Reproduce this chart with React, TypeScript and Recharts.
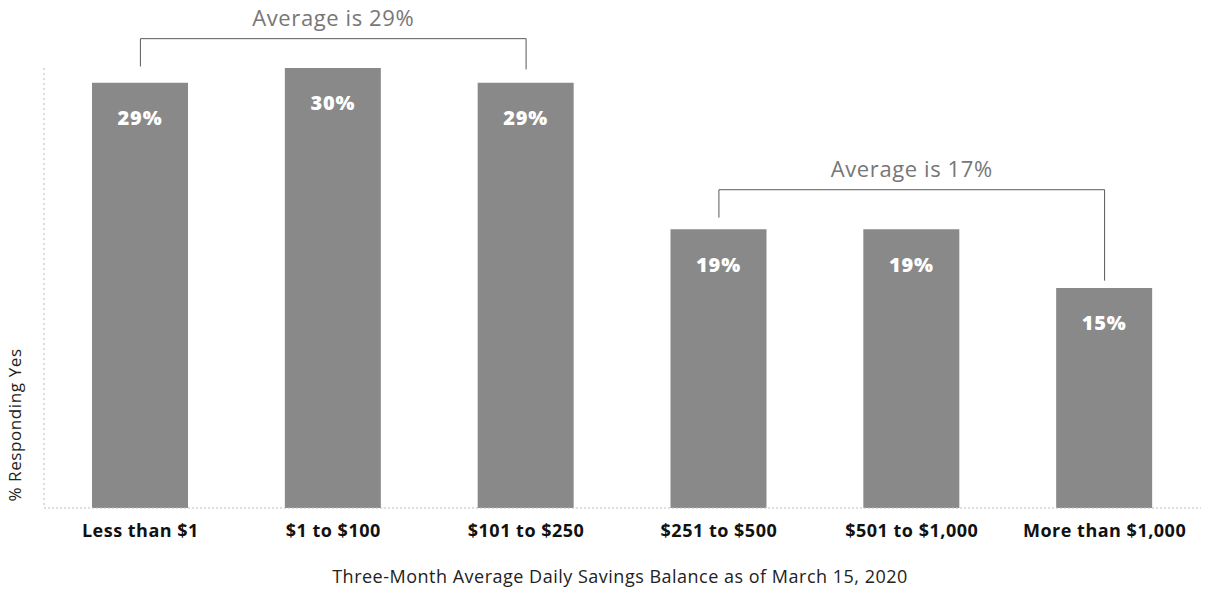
import { Bar, BarChart, LabelList, ReferenceLine, XAxis, YAxis } from "recharts";

const categories = [
  "Less than $1",
  "$1 to $100",
  "$101 to $250",
  "$251 to $500",
  "$501 to $1,000",
  "More than $1,000",
];
const responding = [29, 30, 29, 19, 19, 15];

const groupLow = { from: "Less than $1", to: "$101 to $250", label: "Average is 29%" };
const groupHigh = { from: "$251 to $500", to: "More than $1,000", label: "Average is 17%" };

const data = categories.map((c, i) => ({ balance: c, yes: responding[i] }));

const FONT = "'Open Sans', 'Noto Sans', sans-serif";
const BRACKET = "#5a5a5a";

function YLabel() {
  return (
    <text
      x={21}
      y={425}
      transform="rotate(-90, 21, 425)"
      textAnchor="middle"
      fontSize={17}
      letterSpacing={0.6}
      fill="#222"
      fontFamily={FONT}
    >
      % Responding Yes
    </text>
  );
}

function XLabel() {
  return (
    <text
      x={620}
      y={583}
      textAnchor="middle"
      fontSize={18}
      letterSpacing={0.5}
      fill="#222"
      fontFamily={FONT}
    >
      Three-Month Average Daily Savings Balance as of March 15, 2020
    </text>
  );
}

const bracketLabel = (value: string) => ({
  value,
  position: "top" as const,
  offset: 13,
  fill: "#777",
  fontSize: 22,
  fontFamily: FONT,
  letterSpacing: 0.6,
});

export default function App() {
  return (
    <div style={{ position: "absolute", left: 0, top: 0, background: "#fff" }}>
      <BarChart
        width={1225}
        height={591}
        data={data}
        margin={{ top: 68, right: 24, bottom: 0, left: 0 }}
        barSize={96}
      >
        <XAxis
          dataKey="balance"
          height={83}
          axisLine={{ stroke: "#bbb", strokeDasharray: "2 2" }}
          tickLine={false}
          tickMargin={10}
          tick={{ fontSize: 18, fontWeight: 700, fill: "#111", fontFamily: FONT, letterSpacing: 0.5 }}
          interval={0}
          label={<XLabel />}
        />
        <YAxis
          domain={[0, 30]}
          width={44}
          tick={false}
          tickLine={false}
          axisLine={{ stroke: "#bbb", strokeDasharray: "2 3" }}
          label={<YLabel />}
        />
        <Bar dataKey="yes" fill="#898989" isAnimationActive={false}>
          <LabelList
            dataKey="yes"
            position="insideTop"
            offset={28}
            formatter={(v: any) => `${v}%`}
            style={{ fill: "#fff", fontSize: 20, fontWeight: 800, fontFamily: FONT, letterSpacing: 0.8 }}
          />
        </Bar>

        <ReferenceLine
          segment={[{ x: groupLow.from, y: 32 }, { x: groupLow.to, y: 32 }]}
          stroke={BRACKET}
          ifOverflow="visible"
          label={bracketLabel(groupLow.label)}
        />
        <ReferenceLine
          segment={[{ x: groupLow.from, y: 32 }, { x: groupLow.from, y: 30.1 }]}
          stroke={BRACKET}
          ifOverflow="visible"
        />
        <ReferenceLine
          segment={[{ x: groupLow.to, y: 32 }, { x: groupLow.to, y: 29.9 }]}
          stroke={BRACKET}
          ifOverflow="visible"
        />

        <ReferenceLine
          segment={[{ x: groupHigh.from, y: 21.7 }, { x: groupHigh.to, y: 21.7 }]}
          stroke={BRACKET}
          ifOverflow="visible"
          label={bracketLabel(groupHigh.label)}
        />
        <ReferenceLine
          segment={[{ x: groupHigh.from, y: 21.7 }, { x: groupHigh.from, y: 19.8 }]}
          stroke={BRACKET}
          ifOverflow="visible"
        />
        <ReferenceLine
          segment={[{ x: groupHigh.to, y: 21.7 }, { x: groupHigh.to, y: 15.5 }]}
          stroke={BRACKET}
          ifOverflow="visible"
        />
      </BarChart>
    </div>
  );
}
